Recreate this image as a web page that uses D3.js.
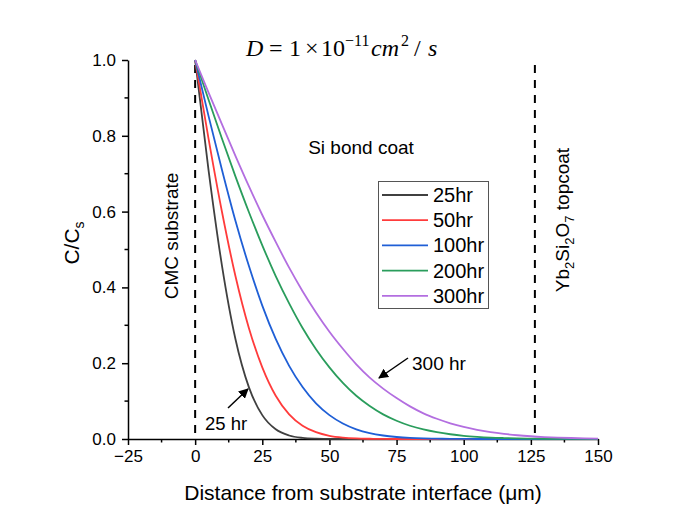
<!DOCTYPE html>
<html>
<head>
<meta charset="utf-8">
<script src="https://cdn.jsdelivr.net/npm/d3@7"></script>
<style>
  body { margin: 0; background: #fff; }
  svg text { font-family: "Liberation Sans", Arial, sans-serif; fill: #000; }
</style>
</head>
<body>
<div id="chart"></div>
<script>
// distance from interface (um)
var xs = [0, 5, 10, 15, 20, 25, 30, 35, 40, 45, 50, 55, 60, 65, 70, 75, 80, 85, 90, 95, 100, 105, 110, 115, 120, 125, 130, 135, 140, 145, 150];

var c25  = [1, 0.709, 0.457, 0.264, 0.137, 0.063, 0.0256, 0.0092, 0.0029, 0.0008, 0.0002, 0, 0, 0, 0, 0, 0, 0, 0, 0, 0, 0, 0, 0, 0, 0, 0, 0, 0, 0, 0];
var c50  = [1, 0.792, 0.599, 0.430, 0.293, 0.189, 0.114, 0.065, 0.035, 0.018, 0.0085, 0.0038, 0.0015, 0.0006, 0.0002, 0, 0, 0, 0, 0, 0, 0, 0, 0, 0, 0, 0, 0, 0, 0, 0];
var c100 = [1, 0.852, 0.710, 0.576, 0.457, 0.352, 0.264, 0.193, 0.137, 0.094, 0.063, 0.041, 0.0256, 0.0155, 0.0092, 0.0053, 0.0029, 0.0015, 0.0008, 0.0004, 0.0002, 0, 0, 0, 0, 0, 0, 0, 0, 0, 0];
var c200 = [1, 0.895, 0.792, 0.693, 0.599, 0.511, 0.430, 0.358, 0.293, 0.237, 0.189, 0.148, 0.114, 0.087, 0.065, 0.0482, 0.035, 0.0253, 0.018, 0.0125, 0.0085, 0.0058, 0.0038, 0.0025, 0.0015, 0.0010, 0.0006, 0.0004, 0.0002, 0.0001, 0.0001];
var c300 = [1, 0.914, 0.830, 0.747, 0.667, 0.591, 0.520, 0.452, 0.390, 0.334, 0.283, 0.238, 0.197, 0.162, 0.133, 0.108, 0.086, 0.0677, 0.0534, 0.0415, 0.0318, 0.0240, 0.0182, 0.0136, 0.0099, 0.0072, 0.0052, 0.0037, 0.0026, 0.0018, 0.0012];

var names = ["25hr", "50hr", "100hr", "200hr", "300hr"];
var colors = ["#404040", "#ff3b3b", "#1f5fd6", "#2a9d5c", "#b36ee0"];
var xTicks = [-25, 0, 25, 50, 75, 100, 125, 150];
var yTicks = [0, 0.2, 0.4, 0.6, 0.8, 1.0];

var series = [c25, c50, c100, c200, c300];

var width = 679, height = 523;
var svg = d3.select("#chart").append("svg").attr("width", width).attr("height", height);

var x = d3.scaleLinear().domain([-25, 150]).range([128, 598]);
var y = d3.scaleLinear().domain([0, 1]).range([439, 60]);

// minor ticks
var xMinor = d3.range(-25, 151, 12.5).filter(function (d) { return xTicks.indexOf(d) < 0; });
var yMinor = d3.range(0.1, 1, 0.2);

svg.selectAll(".xminor").data(xMinor).enter().append("line")
  .attr("x1", function (d) { return x(d); }).attr("x2", function (d) { return x(d); })
  .attr("y1", 439).attr("y2", 442.5).attr("stroke", "#000").attr("stroke-width", 1.5);
svg.selectAll(".yminor").data(yMinor).enter().append("line")
  .attr("y1", function (d) { return y(d); }).attr("y2", function (d) { return y(d); })
  .attr("x1", 128).attr("x2", 124.5).attr("stroke", "#000").attr("stroke-width", 1.5);

var xAxis = svg.append("g").attr("transform", "translate(0,439)")
  .call(d3.axisBottom(x).tickValues(xTicks).tickSize(6).tickSizeOuter(0).tickPadding(5)
    .tickFormat(function (d) { return d < 0 ? "\u2212" + Math.abs(d) : d; }));
var yAxis = svg.append("g").attr("transform", "translate(128,0)")
  .call(d3.axisLeft(y).tickValues(yTicks).tickSize(6).tickSizeOuter(0).tickPadding(6)
    .tickFormat(d3.format(".1f")));

[xAxis, yAxis].forEach(function (g) {
  g.select(".domain").attr("stroke", "#000").attr("stroke-width", 1.5);
  g.selectAll(".tick line").attr("stroke", "#000").attr("stroke-width", 1.5);
  g.selectAll(".tick text").attr("font-size", 17).attr("font-family", "Liberation Sans, Arial, sans-serif").attr("fill", "#000");
});

// interface dashed lines
[0, 126.5].forEach(function (d) {
  svg.append("line").attr("x1", x(d)).attr("x2", x(d)).attr("y1", 65).attr("y2", 439)
    .attr("stroke", "#000").attr("stroke-width", 2).attr("stroke-dasharray", "8,7");
});

// curves
var line = d3.line()
  .x(function (d, i) { return x(xs[i]); })
  .y(function (d) { return y(d); })
  .curve(d3.curveMonotoneX);

svg.selectAll(".curve").data(series).enter().append("path")
  .attr("d", line).attr("fill", "none")
  .attr("stroke", function (d, i) { return colors[i]; })
  .attr("stroke-width", 1.8);

// title, pieces placed like the typeset equation
var title = svg.append("text").attr("y", 55.5).attr("font-size", 24)
  .style("font-family", "'Liberation Serif', 'DejaVu Serif', serif");
title.append("tspan").attr("x", 246).attr("font-style", "italic").text("D");
title.append("tspan").attr("x", 269).text("=");
title.append("tspan").attr("x", 289).text("1");
title.append("tspan").attr("x", 305).text("\u00d7");
title.append("tspan").attr("x", 321).text("10");
title.append("tspan").attr("x", 345).attr("font-size", 16).attr("dy", -10).text("\u221211");
title.append("tspan").attr("x", 371).attr("font-style", "italic").attr("dy", 10).text("cm");
title.append("tspan").attr("x", 401).attr("font-size", 16).attr("dy", -10).text("2");
title.append("tspan").attr("x", 414).attr("dy", 10).text("/");
title.append("tspan").attr("x", 428).attr("font-style", "italic").text("s");

// region labels
svg.append("text").attr("x", 361).attr("y", 154).attr("text-anchor", "middle")
  .attr("font-size", 19).text("Si bond coat");
svg.append("text").attr("transform", "translate(178,236) rotate(-90)").attr("text-anchor", "middle")
  .attr("font-size", 19).text("CMC substrate");
var yb = svg.append("text").attr("transform", "translate(569,220) rotate(-90)").attr("text-anchor", "middle")
  .attr("font-size", 19);
yb.append("tspan").text("Yb");
yb.append("tspan").attr("font-size", 13).attr("dy", 5).text("2");
yb.append("tspan").attr("dy", -5).text("Si");
yb.append("tspan").attr("font-size", 13).attr("dy", 5).text("2");
yb.append("tspan").attr("dy", -5).text("O");
yb.append("tspan").attr("font-size", 13).attr("dy", 5).text("7");
yb.append("tspan").attr("dy", -5).text(" topcoat");

// axis titles
svg.append("text").attr("x", 363).attr("y", 500).attr("text-anchor", "middle")
  .attr("font-size", 21).text("Distance from substrate interface (\u03bcm)");
var yl = svg.append("text").attr("transform", "translate(79,243) rotate(-90)").attr("text-anchor", "middle")
  .attr("font-size", 21);
yl.append("tspan").text("C/C");
yl.append("tspan").attr("font-size", 14).attr("dy", 5).text("s");

// legend
var lg = svg.append("g");
lg.append("rect").attr("x", 378.5).attr("y", 181.5).attr("width", 110).attr("height", 127)
  .attr("fill", "#fff").attr("stroke", "#555").attr("stroke-width", 1);
names.forEach(function (n, i) {
  var yy = 195 + i * 25.2;
  lg.append("line").attr("x1", 382).attr("x2", 428).attr("y1", yy).attr("y2", yy)
    .attr("stroke", colors[i]).attr("stroke-width", 1.8);
  lg.append("text").attr("x", 433).attr("y", yy + 7).attr("font-size", 20).text(n);
});

// annotations
var defs = svg.append("defs");
defs.append("marker").attr("id", "arr").attr("viewBox", "0 0 10 10").attr("refX", 9).attr("refY", 5)
  .attr("markerWidth", 10).attr("markerHeight", 10).attr("markerUnits", "userSpaceOnUse").attr("orient", "auto")
  .append("path").attr("d", "M0,0 L10,5 L0,10 z").attr("fill", "#000");

svg.append("line").attr("x1", 228).attr("y1", 408).attr("x2", 248).attr("y2", 389)
  .attr("stroke", "#000").attr("stroke-width", 1.5).attr("marker-end", "url(#arr)");
svg.append("text").attr("x", 205).attr("y", 430).attr("font-size", 18.5).text("25 hr");

svg.append("line").attr("x1", 408).attr("y1", 358).attr("x2", 379).attr("y2", 378)
  .attr("stroke", "#000").attr("stroke-width", 1.5).attr("marker-end", "url(#arr)");
svg.append("text").attr("x", 412).attr("y", 370).attr("font-size", 19).text("300 hr");
</script>
</body>
</html>
